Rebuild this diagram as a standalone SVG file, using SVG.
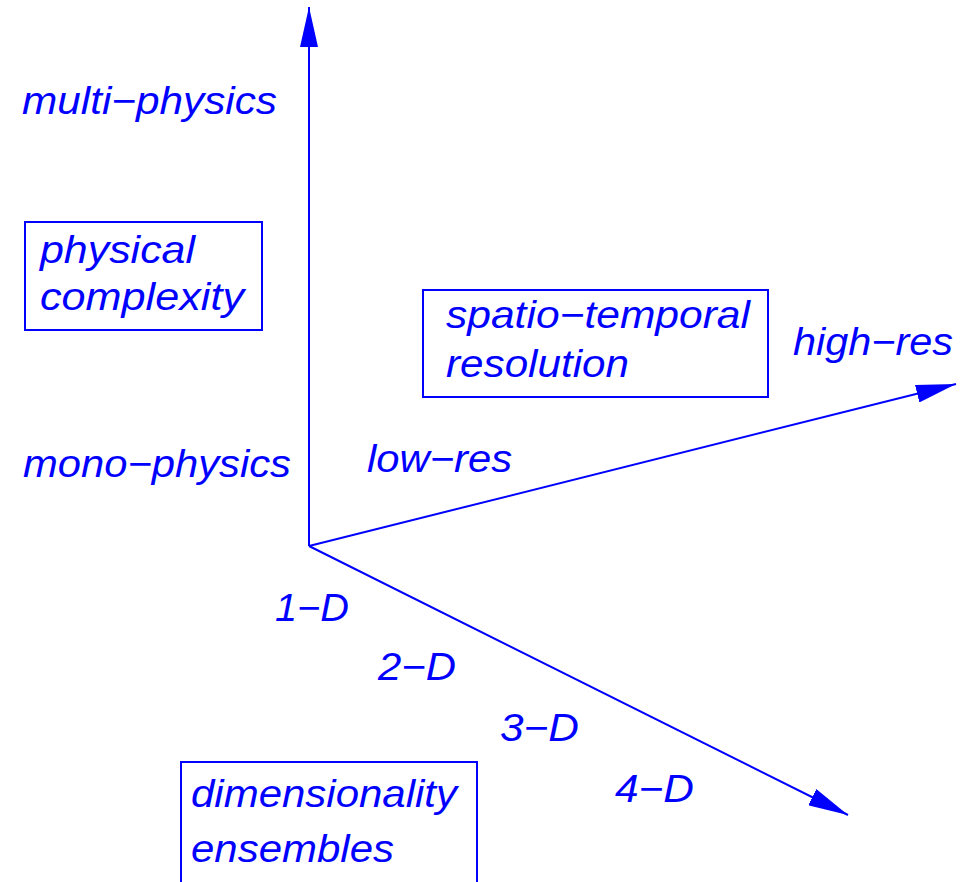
<svg xmlns="http://www.w3.org/2000/svg" width="961" height="882" viewBox="0 0 961 882">
<style>
text{font-family:"Liberation Sans",Arial,sans-serif;font-style:italic;font-size:38px;fill:#0000ff}
.ax{stroke:#0000ff;stroke-width:2;fill:none}
.box{stroke:#0000ff;stroke-width:2;fill:none}
</style>
<defs>
<marker id="ah" viewBox="0 0 40 18" markerWidth="40" markerHeight="18" refX="40" refY="9" orient="auto" markerUnits="userSpaceOnUse">
<path d="M0,0 L40,9 L0,18 z" fill="#0000ff"/>
</marker>
</defs>
<rect width="961" height="882" fill="#ffffff"/>
<g id="connectors">
<line class="ax" x1="309" y1="546" x2="309" y2="7" marker-end="url(#ah)"/>
<line class="ax" x1="309" y1="546" x2="956" y2="384" marker-end="url(#ah)"/>
<line class="ax" x1="309" y1="546" x2="848" y2="815" marker-end="url(#ah)"/>
</g>
<g id="physical-complexity">
<rect class="box" x="25" y="222" width="237" height="108"/>
<text x="40" y="263" textLength="155" lengthAdjust="spacingAndGlyphs">physical</text>
<text x="40" y="310" textLength="204" lengthAdjust="spacingAndGlyphs">complexity</text>
</g>
<g id="spatio-temporal-resolution">
<rect class="box" x="423" y="290" width="345" height="107"/>
<text x="446" y="328" textLength="304" lengthAdjust="spacingAndGlyphs">spatio−temporal</text>
<text x="446" y="377" textLength="183" lengthAdjust="spacingAndGlyphs">resolution</text>
</g>
<g id="dimensionality-ensembles">
<rect class="box" x="181" y="762" width="296" height="130"/>
<text x="191" y="807" textLength="266" lengthAdjust="spacingAndGlyphs">dimensionality</text>
<text x="191" y="862" textLength="203" lengthAdjust="spacingAndGlyphs">ensembles</text>
</g>
<g id="multi-physics"><text x="22" y="114" textLength="255" lengthAdjust="spacingAndGlyphs">multi−physics</text></g>
<g id="mono-physics"><text x="23" y="477" textLength="268" lengthAdjust="spacingAndGlyphs">mono−physics</text></g>
<g id="low-res"><text x="367" y="472" textLength="145" lengthAdjust="spacingAndGlyphs">low−res</text></g>
<g id="high-res"><text x="793" y="355" textLength="160" lengthAdjust="spacingAndGlyphs">high−res</text></g>
<g id="d1"><text x="275" y="621" textLength="74" lengthAdjust="spacingAndGlyphs">1−D</text></g>
<g id="d2"><text x="378" y="680" textLength="78" lengthAdjust="spacingAndGlyphs">2−D</text></g>
<g id="d3"><text x="500" y="741" textLength="79" lengthAdjust="spacingAndGlyphs">3−D</text></g>
<g id="d4"><text x="615" y="802" textLength="79" lengthAdjust="spacingAndGlyphs">4−D</text></g>
</svg>
